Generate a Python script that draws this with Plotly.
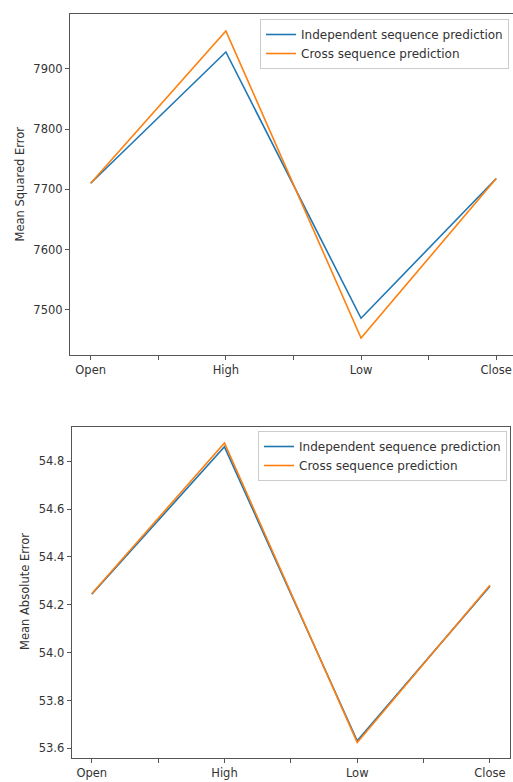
import plotly.graph_objects as go

categories = ["Open", "High", "Low", "Close"]
mse_independent = [7710, 7928, 7486, 7718]
mse_cross = [7710, 7963, 7453, 7718]
mae_independent = [54.244, 54.860, 53.632, 54.278]
mae_cross = [54.246, 54.876, 53.625, 54.282]
series_names = ["Independent sequence prediction", "Cross sequence prediction"]
mse_ticks = [7500, 7600, 7700, 7800, 7900]
mae_ticks = [53.6, 53.8, 54.0, 54.2, 54.4, 54.6, 54.8]

W, H = 513, 782
BLUE, ORANGE = "#1f77b4", "#ff7f0e"
FONT = "DejaVu Sans"
TXT = "#333333"
FS = 11.5

xpos = list(range(len(categories)))
half_ticks = [i * 0.5 for i in range(2 * len(categories) - 1)]
half_text = [categories[int(v)] if v == int(v) else "" for v in half_ticks]

fig = go.Figure()
fig.add_trace(go.Scatter(x=xpos, y=mse_independent, mode="lines", name=series_names[0],
                         line=dict(color=BLUE, width=1.6), xaxis="x", yaxis="y", legend="legend"))
fig.add_trace(go.Scatter(x=xpos, y=mse_cross, mode="lines", name=series_names[1],
                         line=dict(color=ORANGE, width=1.6), xaxis="x", yaxis="y", legend="legend"))
fig.add_trace(go.Scatter(x=xpos, y=mae_independent, mode="lines", name=series_names[0],
                         line=dict(color=BLUE, width=1.6), xaxis="x2", yaxis="y2", legend="legend2"))
fig.add_trace(go.Scatter(x=xpos, y=mae_cross, mode="lines", name=series_names[1],
                         line=dict(color=ORANGE, width=1.6), xaxis="x2", yaxis="y2", legend="legend2"))

def px_x(p):
    return p / W

def px_y(p):
    return 1 - p / H

axis_common = dict(showgrid=False, zeroline=False, showline=True, linecolor="#555555", linewidth=1.2,
                   mirror=True, ticks="outside", ticklen=4, tickcolor="#555555", automargin=False,
                   tickfont=dict(family=FONT, size=FS, color=TXT))

legend_common = dict(xanchor="left", yanchor="top", bgcolor="rgba(255,255,255,0.85)",
                     bordercolor="#cccccc", borderwidth=1, tracegroupgap=0,
                     font=dict(family=FONT, size=12, color=TXT))

fig.update_layout(
    width=W, height=H,
    margin=dict(l=0, r=0, t=0, b=0),
    paper_bgcolor="white", plot_bgcolor="white",
    xaxis=dict(domain=[px_x(70), 1.0], range=[-0.153, 3.124], tickmode="array",
               tickvals=half_ticks, ticktext=half_text, anchor="y", **axis_common),
    yaxis=dict(domain=[px_y(355), px_y(14)], range=[7425, 7991], tickmode="array",
               tickvals=mse_ticks, anchor="x", **axis_common),
    xaxis2=dict(domain=[px_x(71.7), px_x(510)], range=[-0.151, 3.151], tickmode="array",
                tickvals=half_ticks, ticktext=half_text, anchor="y2", **axis_common),
    yaxis2=dict(domain=[px_y(758), px_y(426.7)], range=[53.56, 54.944], tickmode="array",
                tickvals=mae_ticks, tickformat=".1f", anchor="x2", **axis_common),
    legend=dict(x=px_x(260), y=px_y(19), **legend_common),
    legend2=dict(x=px_x(258), y=px_y(431), **legend_common),
    showlegend=True,
    annotations=[
        dict(text="Mean Squared Error", x=px_x(19), y=px_y(184.5), xref="paper", yref="paper",
             xanchor="center", yanchor="middle",
             showarrow=False, textangle=-90, font=dict(family=FONT, size=FS, color=TXT)),
        dict(text="Mean Absolute Error", x=px_x(25), y=px_y(592), xref="paper", yref="paper",
             xanchor="center", yanchor="middle",
             showarrow=False, textangle=-90, font=dict(family=FONT, size=FS, color=TXT)),
    ],
)

fig.write_html("out.html", config={"displayModeBar": False},
               post_script="document.body.style.margin='0';document.body.style.overflow='hidden';")
